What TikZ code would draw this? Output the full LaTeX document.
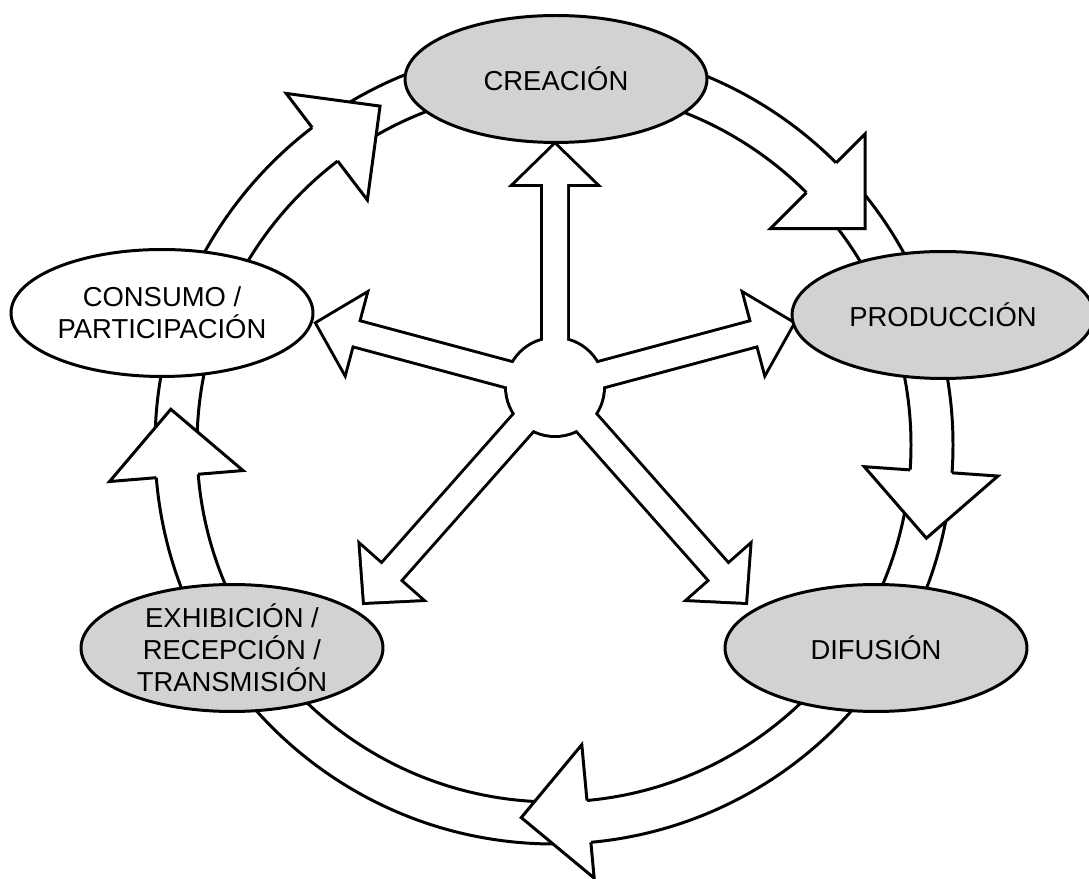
\documentclass[tikz,border=0pt]{standalone}
\usepackage{fontspec}
\setmainfont{Liberation Sans}
\usetikzlibrary{shapes.geometric}

\definecolor{gris}{HTML}{D2D2D2}

\tikzset{
  linea/.style={line width=1.7pt},
  etapa/.style={ellipse, draw, line width=1.7pt, fill=gris, align=center,
    minimum width=6.04cm, minimum height=2.54cm, inner sep=0pt,
    font=\fontsize{15.6pt}{18.1pt}\selectfont}
}

\begin{document}
\begin{tikzpicture}[x=0.02cm,y=0.02cm]

\useasboundingbox (0,0) rectangle (1089,879);

%anillo
\draw[linea] (554,434) circle (399);
\draw[linea] (554,434) circle (357);

%puntas del anillo
\foreach \ang/\rad in {127.3/375,45/373,-4/378,-84.7/368,184.7/379}{
  \begin{scope}[shift={(554,434)},rotate=\ang]
    \fill[white] (\rad-67,0) -- (\rad,-67) -- (\rad+67,0) -- cycle;
    \draw[linea] (357,0) -- (\rad-67,0) -- (\rad,-67) -- (\rad+67,0) -- (399,0);
  \end{scope}
}

%flechas del centro
\coordinate (centro) at (555,492);
\foreach \ang/\lar in {90/242,15/246,-48.5/287,-131.5/287,165/246}{
  \draw[line width=3.4pt,shift={(555,492)},rotate=\ang] (0,-12) -- (\lar-39,-12) -- (\lar-39,-40) -- (\lar,0) -- (\lar-39,40) -- (\lar-39,12) -- (0,12) -- cycle;
}
\draw[line width=3.4pt] (centro) circle (48);
\foreach \ang/\lar in {90/242,15/246,-48.5/287,-131.5/287,165/246}{
  \fill[white,shift={(555,492)},rotate=\ang] (0,-12) -- (\lar-39,-12) -- (\lar-39,-40) -- (\lar,0) -- (\lar-39,40) -- (\lar-39,12) -- (0,12) -- cycle;
}
\fill[white] (centro) circle (48);

%etapas
\node[etapa] (creacion) at (556,800) {CREACIÓN};
\node[etapa] (produccion) at (943,564) {PRODUCCIÓN};
\node[etapa] (difusion) at (876,231) {DIFUSIÓN};
\node[etapa,inner ysep=-3pt] (exhibicion) at (232,231) {EXHIBICIÓN /\\RECEPCIÓN /\\TRANSMISIÓN};
\node[etapa,fill=white] (consumo) at (162,566) {CONSUMO /\\PARTICIPACIÓN};

\end{tikzpicture}
\end{document}
